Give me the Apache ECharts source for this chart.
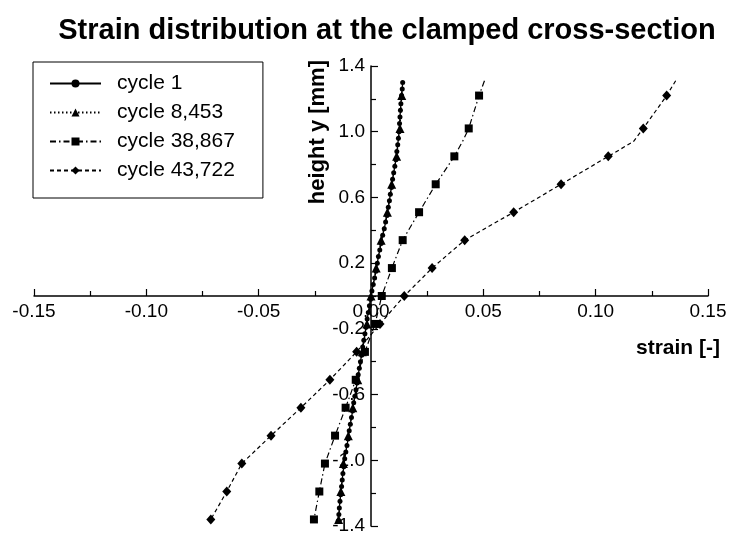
<!DOCTYPE html>
<html>
<head>
<meta charset="utf-8">
<title>Strain distribution</title>
<script src="https://cdn.jsdelivr.net/npm/echarts@6/dist/echarts.min.js"></script>
<style>
  html, body { margin: 0; padding: 0; background: #fff; }
  #chart { width: 729px; height: 536px; }
</style>
</head>
<body>
<div id="chart"></div>
<script>
// legend names
const seriesNames = ['cycle 1', 'cycle 8,453', 'cycle 38,867', 'cycle 43,722'];

// cycle 1 (dense small dots)
const c1Height = [1.3, 1.26, 1.22, 1.17, 1.13, 1.09, 1.05, 1.0, 0.96, 0.92, 0.88, 0.83, 0.79, 0.75, 0.71, 0.66,
  0.62, 0.58, 0.54, 0.49, 0.45, 0.41, 0.37, 0.32, 0.28, 0.24, 0.2, 0.15, 0.11, 0.07, 0.03, -0.02,
  -0.06, -0.1, -0.14, -0.19, -0.23, -0.27, -0.31, -0.36, -0.4, -0.44, -0.48, -0.53, -0.57, -0.61, -0.65, -0.7,
  -0.74, -0.78, -0.82, -0.87, -0.91, -0.95, -0.99, -1.04, -1.08, -1.12, -1.16, -1.21, -1.25, -1.29, -1.33, -1.37];
const c1Strain = [0.0141, 0.0139, 0.0136, 0.0133, 0.0131, 0.0129, 0.0127, 0.0125, 0.0122, 0.0119, 0.0115, 0.0111, 0.0106, 0.0101, 0.0096, 0.0091,
  0.0086, 0.0082, 0.0077, 0.0071, 0.0065, 0.0059, 0.0052, 0.0045, 0.0039, 0.0033, 0.0028, 0.0022, 0.0016, 0.0010, 0.0004, -0.0002,
  -0.0007, -0.0012, -0.0017, -0.0022, -0.0027, -0.0032, -0.0037, -0.0042, -0.0047, -0.0052, -0.0057, -0.0062, -0.0067, -0.0072, -0.0077, -0.0082,
  -0.0087, -0.0092, -0.0097, -0.0102, -0.0107, -0.0112, -0.0117, -0.0121, -0.0125, -0.0128, -0.0131, -0.0135, -0.0138, -0.0141, -0.0143, -0.0146];

// cycle 8,453 (triangles)
const c2Height = [1.22, 1.02, 0.85, 0.68, 0.51, 0.34, 0.17, 0.0, -0.17, -0.34, -0.51, -0.68, -0.85, -1.02, -1.19, -1.36];
const c2Strain = [0.0137, 0.0129, 0.0114, 0.0092, 0.0073, 0.0045, 0.0023, 0.0, -0.0018, -0.0039, -0.0059, -0.0081, -0.0101, -0.0123, -0.0134, -0.0144];

// cycle 38,867 (squares); marked = 0 -> line point without symbol
const c3Height = [1.31, 1.22, 1.02, 0.95, 0.85, 0.68, 0.51, 0.34, 0.17, 0.0, -0.17, -0.34, -0.51, -0.68, -0.85, -1.02, -1.19, -1.36];
const c3Strain = [0.0505, 0.0481, 0.0435, 0.0411, 0.0371, 0.0288, 0.0214, 0.0141, 0.0093, 0.0048, 0.0018, -0.0027, -0.0068, -0.0113, -0.0160, -0.0205, -0.0230, -0.0254];
const c3Marked = [0, 1, 1, 0, 1, 1, 1, 1, 1, 1, 1, 1, 1, 1, 1, 1, 1, 1];

// cycle 43,722 (diamonds)
const c4Height = [1.31, 1.22, 1.02, 0.94, 0.85, 0.68, 0.51, 0.34, 0.17, 0.0, -0.17, -0.34, -0.51, -0.68, -0.85, -1.02, -1.19, -1.36];
const c4Strain = [0.1356, 0.1316, 0.1212, 0.1168, 0.1056, 0.0846, 0.0635, 0.0417, 0.0272, 0.0148, 0.0040, -0.0064, -0.0183, -0.0312, -0.0445, -0.0575, -0.0642, -0.0713];
const c4Marked = [0, 1, 1, 0, 1, 1, 1, 1, 1, 1, 1, 1, 1, 1, 1, 1, 1, 1];

function toData(strain, height, marked) {
  return strain.map((s, i) => {
    const item = { value: [s, height[i]] };
    if (marked && !marked[i]) {
      item.symbol = 'none';
    }
    return item;
  });
}

const chart = echarts.init(document.getElementById('chart'));

// plot area (px)
const gridLeft = 34, gridRight = 21, gridTop = 66, gridBottom = 10;
const plotW = 729 - gridLeft - gridRight;
const plotH = 536 - gridTop - gridBottom;

const lineBase = {
  type: 'line',
  smooth: false,
  showAllSymbol: true,
  animation: false,
  itemStyle: { color: '#000' }
};

chart.setOption({
  backgroundColor: '#fff',
  textStyle: { fontFamily: 'Liberation Sans, Arial, sans-serif' },
  title: {
    text: 'Strain distribution at the clamped cross-section',
    left: 382,
    textAlign: 'center',
    top: 11,
    textStyle: {
      fontFamily: 'Liberation Sans, Arial, sans-serif',
      fontWeight: 'bold',
      fontSize: 29,
      color: '#000'
    }
  },
  legend: {
    data: seriesNames,
    orient: 'vertical',
    left: 33,
    top: 62,
    padding: [11, 28, 17, 16],
    itemGap: 8,
    itemWidth: 51,
    itemHeight: 10,
    borderColor: '#000',
    borderWidth: 1,
    textStyle: {
      fontSize: 21,
      color: '#000',
      padding: [0, 0, 0, 11]
    }
  },
  grid: {
    left: gridLeft,
    right: gridRight,
    top: gridTop,
    bottom: gridBottom,
    outerBoundsMode: 'none',
    containLabel: false
  },
  xAxis: {
    type: 'value',
    min: -0.15,
    max: 0.15,
    interval: 0.05,
    position: 'bottom',
    // move the axis up to y = 0 (half of the plot height)
    offset: -plotH / 2,
    name: 'strain [-]',
    nameLocation: 'end',
    nameGap: 12,
    nameTextStyle: {
      fontWeight: 'bold',
      fontSize: 21,
      color: '#000',
      align: 'right',
      verticalAlign: 'top',
      padding: [42, 0, 0, 0]
    },
    axisLine: { onZero: false, lineStyle: { color: '#000', width: 1.5 } },
    axisTick: { inside: true, length: 7, lineStyle: { color: '#000', width: 1.2 } },
    minorTick: { show: true, splitNumber: 2, length: 5, lineStyle: { color: '#000', width: 1.2 } },
    splitLine: { show: false },
    axisLabel: {
      fontSize: 19,
      color: '#000',
      margin: 6,
      formatter: v => v.toFixed(2)
    }
  },
  yAxis: {
    type: 'value',
    min: -1.4,
    max: 1.4,
    interval: 0.4,
    position: 'left',
    // move the axis right to x = 0 (half of the plot width)
    offset: -plotW / 2,
    name: 'height y [mm]',
    nameLocation: 'end',
    nameRotate: 90,
    nameGap: 6,
    nameTextStyle: {
      fontWeight: 'bold',
      fontSize: 22,
      color: '#000',
      align: 'right',
      verticalAlign: 'bottom',
      padding: [0, 0, 42, 0]
    },
    axisLine: { onZero: false, lineStyle: { color: '#000', width: 1.5 } },
    axisTick: { inside: true, length: 7, lineStyle: { color: '#000', width: 1.2 } },
    minorTick: { show: true, splitNumber: 2, length: 5, lineStyle: { color: '#000', width: 1.2 } },
    splitLine: { show: false },
    axisLabel: {
      fontSize: 19,
      color: '#000',
      margin: 6,
      formatter: v => v.toFixed(1)
    }
  },
  series: [
    {
      ...lineBase,
      name: seriesNames[0],
      symbol: 'circle',
      symbolSize: 5,
      lineStyle: { color: '#000', width: 1.3, type: 'solid' },
      data: toData(c1Strain, c1Height)
    },
    {
      ...lineBase,
      name: seriesNames[1],
      symbol: 'triangle',
      symbolSize: 9,
      lineStyle: { color: '#000', width: 1.2, type: [1.5, 2.5] },
      data: toData(c2Strain, c2Height)
    },
    {
      ...lineBase,
      name: seriesNames[2],
      symbol: 'rect',
      symbolSize: 8,
      lineStyle: { color: '#000', width: 1.2, type: [6, 3, 1.5, 3] },
      data: toData(c3Strain, c3Height, c3Marked)
    },
    {
      ...lineBase,
      name: seriesNames[3],
      symbol: 'diamond',
      symbolSize: [9, 10],
      lineStyle: { color: '#000', width: 1.2, type: [4, 3] },
      data: toData(c4Strain, c4Height, c4Marked)
    }
  ]
});
</script>
</body>
</html>
